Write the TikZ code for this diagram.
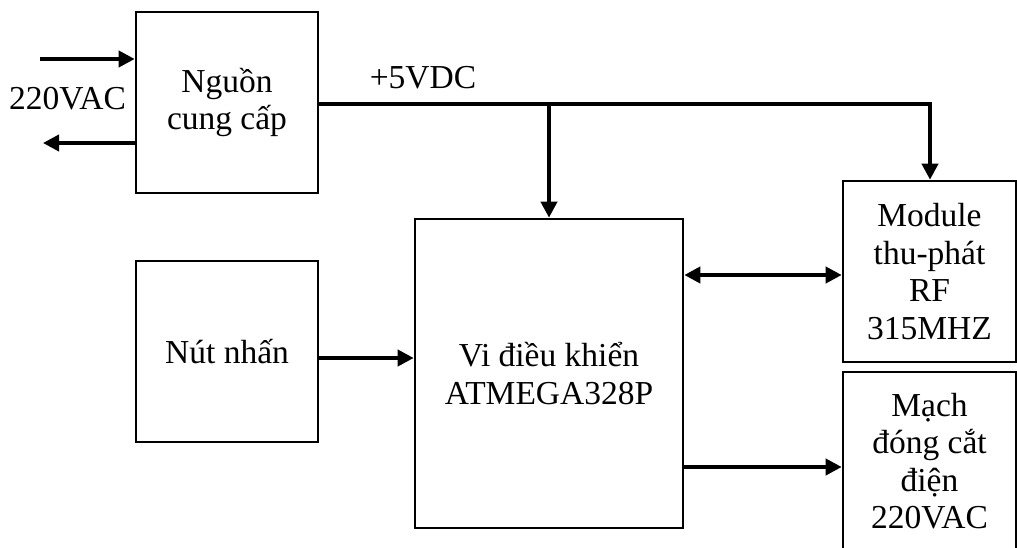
\documentclass[tikz,border=0pt]{standalone}
\usepackage{fontspec}
\setmainfont{Liberation Serif}
\usetikzlibrary{arrows.meta}
\begin{document}
\begin{tikzpicture}[x=1pt,y=-1pt,
  blk/.style={draw=black,line width=2.6pt,rectangle,inner sep=0pt,align=center,
    font=\fontsize{33.5}{37.5}\selectfont},
  wire/.style={line width=3.8pt},
  arr/.style={line width=3.8pt,-{Triangle[length=16pt,width=16pt]}},
  darr/.style={line width=3.8pt,{Triangle[length=16pt,width=16pt]}-{Triangle[length=16pt,width=16pt]}},
  lbl/.style={font=\fontsize{33.5}{37.5}\selectfont,inner sep=0pt}]
\clip (0,0) rectangle (1017,548);
\useasboundingbox (0,0) rectangle (1017,548);
\fill[white] (0,0) rectangle (1017,548);
\node[blk,minimum width=182pt,minimum height=181pt] (ng) at (227,102.5) {Nguồn\\cung cấp};
\node[blk,minimum width=182pt,minimum height=181pt] (nut) at (227,351.5) {Nút nhấn};
\node[blk,minimum width=268pt,minimum height=309pt] (vi) at (549,373.5) {Vi điều khiển\\ATMEGA328P};
\node[blk,minimum width=173pt,minimum height=181pt] (mod) at (929.5,271.5) {Module\\thu-phát\\RF\\315MHZ};
\node[blk,minimum width=173pt,minimum height=178pt] (mach) at (929.5,461) {Mạch\\đóng cắt\\điện\\220VAC};
\node[lbl] (ac) at (67.5,99) {220VAC};
\node[lbl] (v5) at (423,78) {+5VDC};
\coordinate (acin) at (40,59);
\coordinate (acout) at (43,143);
\coordinate (bus) at (930,104);
\coordinate (tap) at (549,104);
\coordinate (ya) at (0,358);
\coordinate (yb) at (0,275);
\coordinate (yc) at (0,467);
\draw[arr] (acin) -- (acin -| ng.west);
\draw[arr] (acout -| ng.west) -- (acout);
\draw[arr] (ng.east |- bus) -- (bus) -- (bus |- mod.north);
\draw[arr] (tap) -- (tap |- vi.north);
\draw[arr] (nut.east |- ya) -- (vi.west |- ya);
\draw[darr] (vi.east |- yb) -- (mod.west |- yb);
\draw[arr] (vi.east |- yc) -- (mach.west |- yc);
\end{tikzpicture}
\end{document}
